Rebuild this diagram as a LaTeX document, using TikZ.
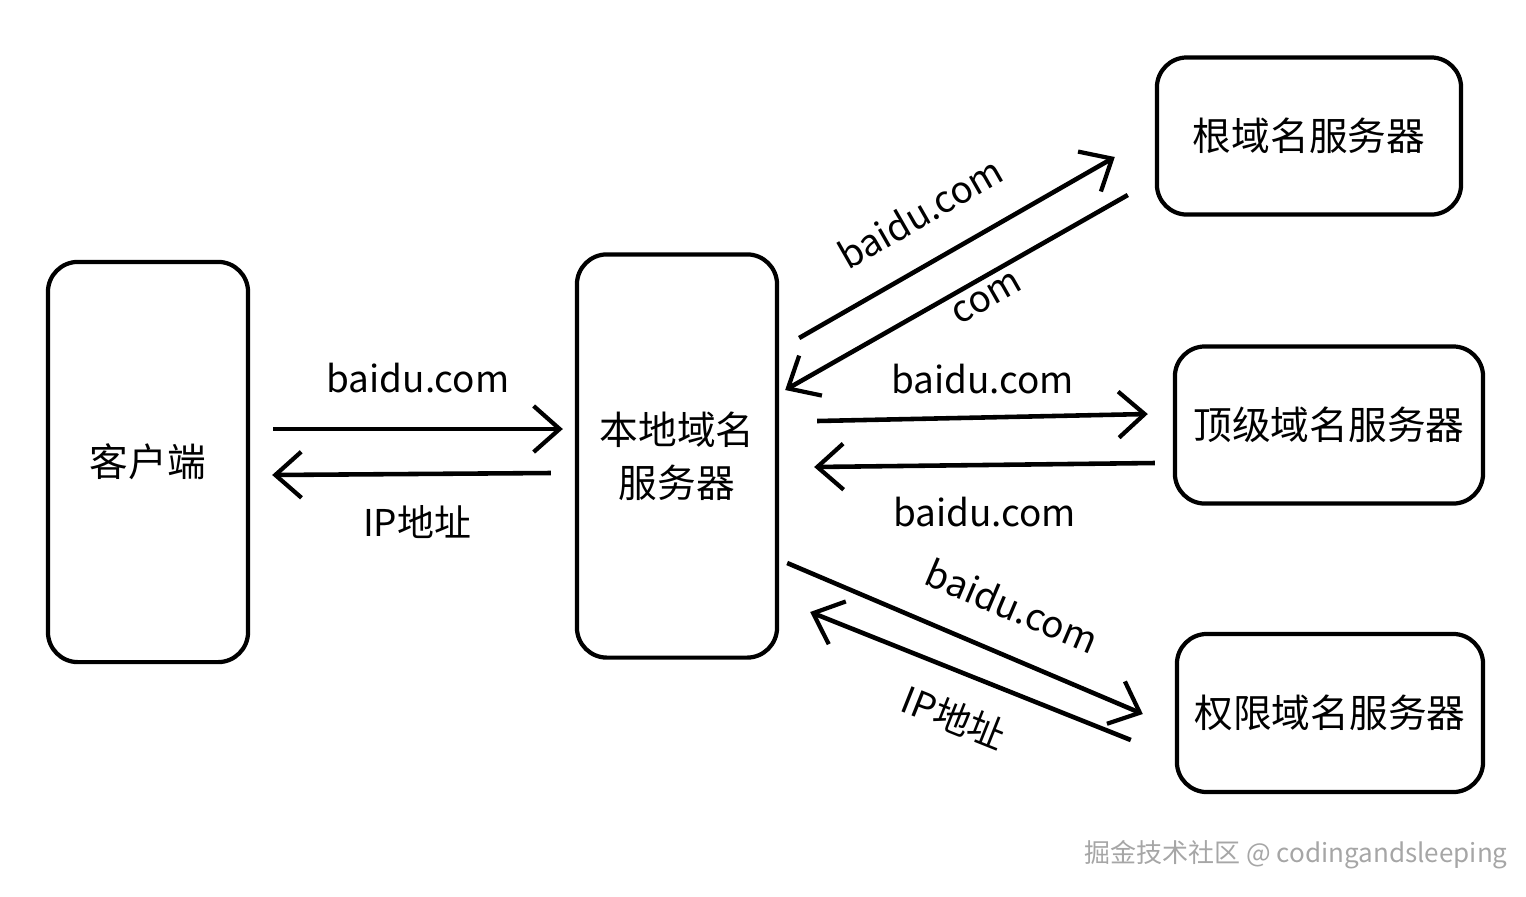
\documentclass[tikz,border=0pt]{standalone}
\usepackage{fontspec}
\setmainfont{Noto Sans CJK SC}
\usepackage{tikz}
\usetikzlibrary{arrows.meta, positioning, calc}

\begin{document}
\begin{tikzpicture}[
    x=0.01cm, y=-0.01cm,
    server/.style={rectangle, rounded corners=0.3cm, draw=black, line width=1.2pt, align=center, font=\fontsize{11}{15}\selectfont},
    tall/.style={server, minimum width=2cm, minimum height=4cm},
    wide/.style={server, minimum width=3.06cm, minimum height=1.57cm},
    arrow/.style={-{Straight Barb[length=2.6mm, width=4.6mm, line width=1.2pt]}, line width=1.3pt},
    lbl/.style={font=\fontsize{10.5}{13}\selectfont, inner sep=1pt}
]
    \useasboundingbox (0,0) rectangle (1526,896);

    % Nodos
    \node[tall] (client) at (148,462) {客户端};
    \node[tall, minimum height=4.03cm] (local) at (677,456) {本地域名\\服务器};
    \node[wide, minimum width=3.04cm] (root) at (1309,136) {根域名服务器};
    \node[wide, minimum width=3.08cm] (tld) at (1329,425) {顶级域名服务器};
    \node[wide, minimum height=1.58cm] (auth) at (1330,713) {权限域名服务器};

    % Conexiones
    \draw[arrow] ([shift={(23,-33)}]client.east) -- node[lbl, midway, above=0.3cm] {baidu.com} ([shift={(-12,-27)}]local.west);
    \draw[arrow] ([shift={(-24,17)}]local.west) -- node[lbl, pos=0.48, below=0.26cm] {IP地址} ([shift={(22,13)}]client.east);

    \draw[arrow] ([shift={(20,-118)}]local.east) -- node[lbl, pos=0.46, sloped, above=0.28cm] {baidu.com} ([shift={(-40,21)}]root.west);
    \draw[arrow] ([shift={(-27,59)}]root.west) -- node[lbl, pos=0.44, sloped, below=0.04cm] {com} ([shift={(6,-66)}]local.east);

    \draw[arrow] ([shift={(38,-35)}]local.east) -- node[lbl, midway, above=0.18cm] {baidu.com} ([shift={(-25,-11)}]tld.west);
    \draw[arrow] ([shift={(-18,38)}]tld.west) -- node[lbl, midway, below=0.26cm] {baidu.com} ([shift={(35,11)}]local.east);

    \draw[arrow] ([shift={(8,107)}]local.east) -- node[lbl, pos=0.58, sloped, above=0.28cm] {baidu.com} ([shift={(-32,1)}]auth.west);
    \draw[arrow] ([shift={(-44,27)}]auth.west) -- node[lbl, pos=0.5, sloped, below=0.22cm] {IP地址} ([shift={(31,156)}]local.east);

    % Marca
    \node[font=\fontsize{7.4}{9}\selectfont, text=gray!70] (mark) at (1296,855) {掘金技术社区 @ codingandsleeping};
\end{tikzpicture}
\end{document}
